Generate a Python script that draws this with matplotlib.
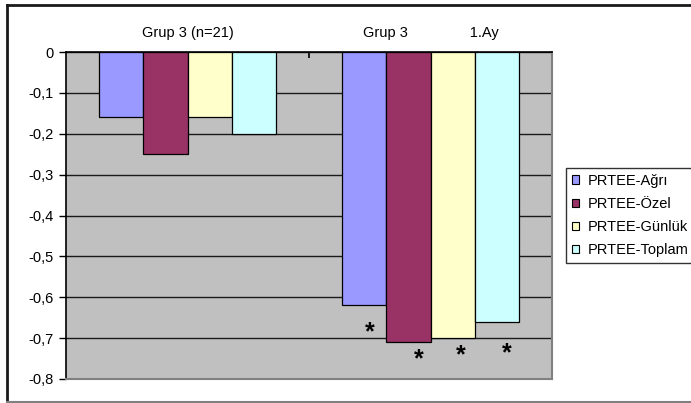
import matplotlib.pyplot as plt
from matplotlib.lines import Line2D
import numpy as np

plt.rcParams['font.family'] = ['Liberation Sans', 'DejaVu Sans']

# Change scores per group
groups = ["Grup 3 (n=21)", "Grup 3" + " " * 15 + "1.Ay"]
series_names = ["PRTEE-Ağrı", "PRTEE-Özel", "PRTEE-Günlük", "PRTEE-Toplam"]
agri = [-0.16, -0.62]
ozel = [-0.25, -0.71]
gunluk = [-0.16, -0.70]
toplam = [-0.20, -0.66]
# significance marks under the second group
signif = [False, True]

colors = ["#9999FF", "#993366", "#FFFFCC", "#CCFFFF"]
# asterisk offsets from the bar end, per series
star_dx = [0.025, 0.041, 0.033, 0.041]
star_dy = [0.067, 0.043, 0.042, 0.076]

W, H = 691, 403
fig = plt.figure(figsize=(W / 100, H / 100), dpi=100)
fs = 10.5

# plot area in pixel coordinates
px_left, px_top, px_right, px_bottom = 66, 52, 552, 379
ax = fig.add_axes([px_left / W, 1 - px_bottom / H,
                   (px_right - px_left) / W, (px_bottom - px_top) / H])
ax.set_facecolor("#C0C0C0")

x = np.arange(len(groups))
bar_w = 0.73 / 4
all_series = [agri, ozel, gunluk, toplam]
for i, (vals, name, col) in enumerate(zip(all_series, series_names, colors)):
    pos = x + (i - 1.5) * bar_w
    ax.bar(pos, vals, width=bar_w, color=col, edgecolor="black",
           linewidth=0.9, label=name, zorder=3)
    # asterisks below significant bars
    for p, v, s in zip(pos, vals, signif):
        if s:
            ax.text(p + star_dx[i], v - star_dy[i], "*", ha="center", va="center",
                    fontsize=18, fontweight="bold", zorder=4)

ax.set_xlim(-0.5, 1.5)
ax.set_ylim(-0.8, 0)
yt = np.round(np.arange(-0.8, 0.01, 0.1), 1)
ax.set_yticks(yt)
ax.set_yticklabels([("%.1f" % v).replace(".", ",") if v != 0 else "0" for v in yt],
                   fontsize=fs)
ax.yaxis.grid(True, color="#1a1a1a", linewidth=1.0, zorder=1)
ax.tick_params(axis="y", direction="out", length=5, width=1, pad=4)

# category axis sits at the top (value 0)
ax.xaxis.tick_top()
ax.set_xticks(x)
ax.set_xticklabels(groups, fontsize=fs)
ax.tick_params(axis="x", which="major", length=0, pad=8.5)
ax.set_xticks([0.5], minor=True)
ax.tick_params(axis="x", which="minor", direction="in", length=4, width=1.2,
               color="black", top=True, bottom=False)

ax.spines["top"].set_color("black")
ax.spines["top"].set_linewidth(1.2)
ax.spines["left"].set_color("black")
ax.spines["left"].set_linewidth(1.2)
ax.spines["right"].set_color("#808080")
ax.spines["right"].set_linewidth(1.5)
ax.spines["bottom"].set_color("#808080")
ax.spines["bottom"].set_linewidth(1.5)

leg = ax.legend(loc="upper left", bbox_to_anchor=((566 - px_left) / (px_right - px_left),
                                                  1 - (168 - px_top) / (px_bottom - px_top)),
                frameon=True, fancybox=False, fontsize=fs, handlelength=0.5,
                handleheight=0.5, handletextpad=0.6, labelspacing=0.62,
                borderpad=0.4, borderaxespad=0)
leg.get_frame().set_edgecolor("black")
leg.get_frame().set_linewidth(1.0)
for h in leg.legend_handles:
    h.set_linewidth(0.8)

# outer chart frame
fig.add_artist(Line2D([7 / W, 1], [1 - 5 / H, 1 - 5 / H], color="#1a1a1a", linewidth=2))
fig.add_artist(Line2D([7 / W, 7 / W], [1 - 5 / H, 1 - 402 / H], color="#1a1a1a", linewidth=2))
fig.add_artist(Line2D([7 / W, 1], [1 - 402 / H, 1 - 402 / H], color="#808080", linewidth=1.5))

fig.savefig("out.png", dpi=100)
